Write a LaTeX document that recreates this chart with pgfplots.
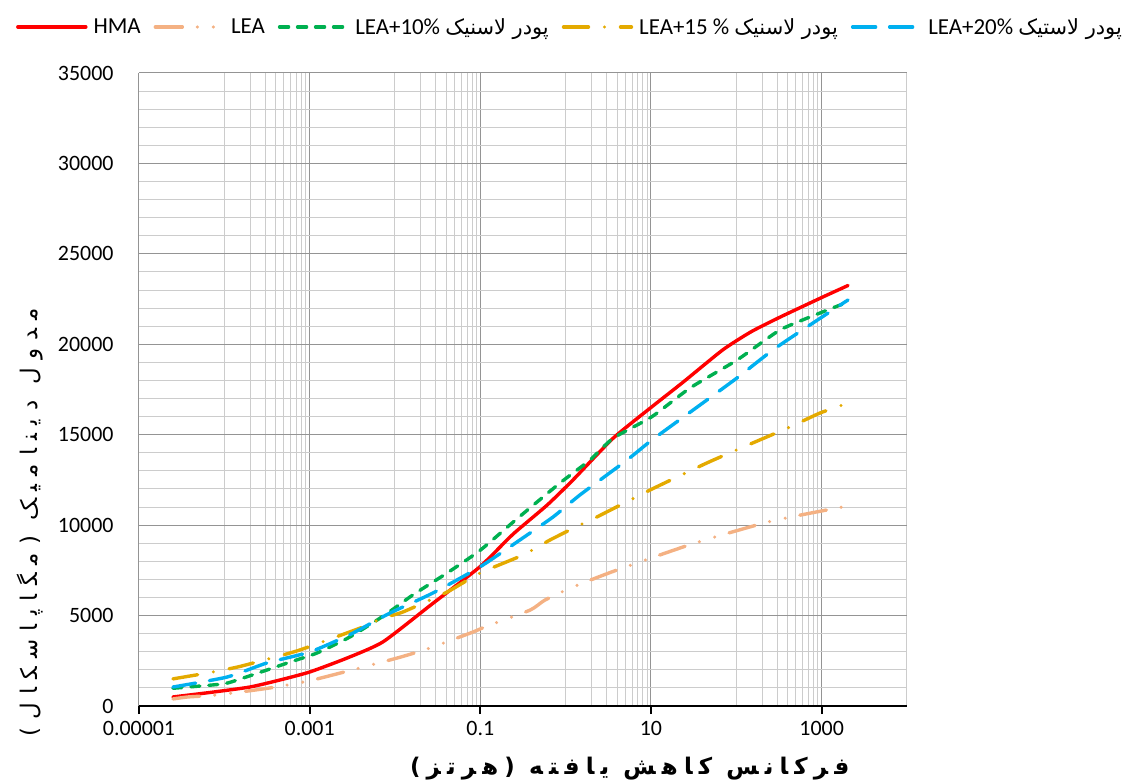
\documentclass[border=0pt]{standalone}
\usepackage{pgfplots}
\pgfplotsset{compat=1.18}
\usepackage{fontspec}
\setmainfont{Carlito}
\newfontfamily\arabicfont{DejaVu Sans}[Script=Arabic]
\newfontfamily\ylabfont{DejaVu Sans}[Script=Arabic,LetterSpace=36]
\newfontfamily\xlabfont{DejaVu Sans}[Script=Arabic,LetterSpace=27]
\TeXXeTstate=1
\definecolor{hma}{RGB}{255,0,0}
\definecolor{lea}{RGB}{244,177,131}
\definecolor{gten}{RGB}{0,176,80}
\definecolor{gfif}{RGB}{228,170,0}
\definecolor{btw}{RGB}{0,176,240}

\pgfplotstableread{
f E
2.5e-5 500
7.4e-5 770
2.0e-4 1050
4.5e-4 1440
1.0e-3 1880
2.74e-3 2650
7.2e-3 3540
0.0257 5550
0.099 7700
0.2415 9500
0.604 11100
1.219 12500
3.59 14800
10.28 16550
23.7 17900
69.8 19700
150 20700
325 21500
1038 22620
2037 23250
}\hma

\pgfplotstableread{
f E
2.5e-5 390
3.75e-5 500
8.2e-5 610
3.43e-4 1000
1.094e-3 1440
0.01056 2650
0.0257 3210
0.082 4090
0.1197 4420
0.382 5300
0.573 5860
1.219 6580
4.0 7520
32.8 9010
262 10230
2037 11060
}\lea

\pgfplotstableread{
f E
2.5e-5 980
9.6e-5 1220
1.53e-4 1490
3.16e-4 1990
5.9e-4 2430
1.22e-3 2930
2.97e-3 3820
7.6e-3 5030
0.0163 6150
0.0407 7350
0.099 8600
0.269 10350
0.859 12330
1.93 13600
3.59 14800
10.28 16000
28.6 17580
102 19130
325 20790
957 21730
2037 22340
}\gten

\pgfplotstableread{
f E
2.5e-5 1500
6.26e-5 1820
1.445e-4 2160
3.25e-4 2600
7.7e-4 3100
4.22e-3 4370
7.2e-3 4870
0.01242 5200
0.0407 6300
0.0991 7350
0.316 8350
0.656 9180
1.47 10010
2.21 10400
9.73 11940
45.3 13440
137 14430
426 15430
957 16200
2037 16750
}\gfif

\pgfplotstableread{
f E
2.5e-5 1050
1.075e-4 1600
3.16e-4 2380
1.01e-3 2990
2.97e-3 3950
8.74e-3 5140
0.0279 6250
0.099 7690
0.269 9070
0.711 10450
1.472 11670
5.24 13600
10.28 14710
37.5 16640
102 18140
269 19690
731 21070
2037 22450
}\btw

\begin{document}
\begin{tikzpicture}
\begin{axis}[
  at={(0,0)}, anchor=south west,
  scale only axis, width=768bp, height=633bp,
  xmode=log, log basis x=10,
  xmin=1e-5, xmax=1e4, ymin=0, ymax=35000,
  scaled y ticks=false,
  xtick={1e-5,1e-3,0.1,10,1000},
  xticklabels={0.00001,0.001,0.1,10,1000},
  minor xtick={1e-4,2e-4,3e-4,4e-4,5e-4,6e-4,7e-4,8e-4,9e-4,
               0.01,0.02,0.03,0.04,0.05,0.06,0.07,0.08,0.09,
               1,2,3,4,5,6,7,8,9,
               100,200,300,400,500,600,700,800,900,10000},
  ytick={0,5000,10000,15000,20000,25000,30000,35000},
  yticklabels={0,5000,10000,15000,20000,25000,30000,35000},
  minor ytick={1000,2000,3000,4000,6000,7000,8000,9000,11000,12000,13000,14000,
               16000,17000,18000,19000,21000,22000,23000,24000,26000,27000,28000,29000,
               31000,32000,33000,34000},
  grid=both,
  major grid style={draw=black!42, line width=1bp},
  minor grid style={draw=black!20, line width=1bp},
  axis x line*=bottom, axis y line*=left,
  x axis line style={black, line width=2.2bp, -},
  y axis line style={draw=none},
  ytick style={draw=none},
  xtick style={black, line width=2.2bp},
  major tick length=8bp, minor tick length=0pt,
  tick align=outside,
  tick label style={font=\fontsize{22}{24}\selectfont},
  yticklabel style={xshift=-14bp},
  xticklabel style={yshift=-4bp},
  xlabel={\xlabfont\bfseries\beginR فرکانس کاهش یافته (هرتز)\endR},
  xlabel style={at={(axis description cs:0.639,0)}, anchor=center, yshift=-63bp, font=\fontsize{23}{25}\selectfont},
  ylabel={\ylabfont\beginR مدول دینامیک (مگاپاسکال)\endR},
  ylabel style={at={(axis description cs:-0.142,0.29)}, anchor=center, font=\fontsize{23}{25}\selectfont},
  legend columns=5,
  legend style={at={(axis description cs:0.5612,1.0727)}, anchor=center, draw=none, fill=none,
    font=\fontsize{23}{25}\selectfont, inner sep=0pt,
    /tikz/every odd column/.append style={column sep=4bp},
    /tikz/every even column/.append style={column sep=11bp}},
  legend cell align=left,
  legend image code/.code={\draw[#1] (0bp,0bp) -- (68bp,0bp);},
  every axis plot/.append style={line width=3.4bp, line cap=round, line join=round, smooth, tension=0.35},
]
\addplot[hma, solid] table[x=f,y=E]{\hma};
\addlegendentry{HMA}
\addplot[lea, dash pattern=on 27bp off 15bp on 0bp off 16bp on 0bp off 15bp] table[x=f,y=E]{\lea};
\addlegendentry{LEA}
\addplot[gten, dash pattern=on 9bp off 9bp] table[x=f,y=E]{\gten};
\addlegendentry{LEA+10\% {\arabicfont\fontsize{21}{23}\selectfont\beginR پودر لاسنیک\endR}}
\addplot[gfif, dash pattern=on 25bp off 16bp on 0bp off 16bp] table[x=f,y=E]{\gfif};
\addlegendentry{LEA+15 \% {\arabicfont\fontsize{21}{23}\selectfont\beginR پودر لاسنیک\endR}}
\addplot[btw, dash pattern=on 23bp off 14bp] table[x=f,y=E]{\btw};
\addlegendentry{LEA+20\% {\arabicfont\fontsize{21}{23}\selectfont\beginR پودر لاستیک\endR}}
\end{axis}
\pgfresetboundingbox
\path[use as bounding box] (-139bp,-77bp) rectangle (996bp,706bp);
\end{tikzpicture}
\end{document}
